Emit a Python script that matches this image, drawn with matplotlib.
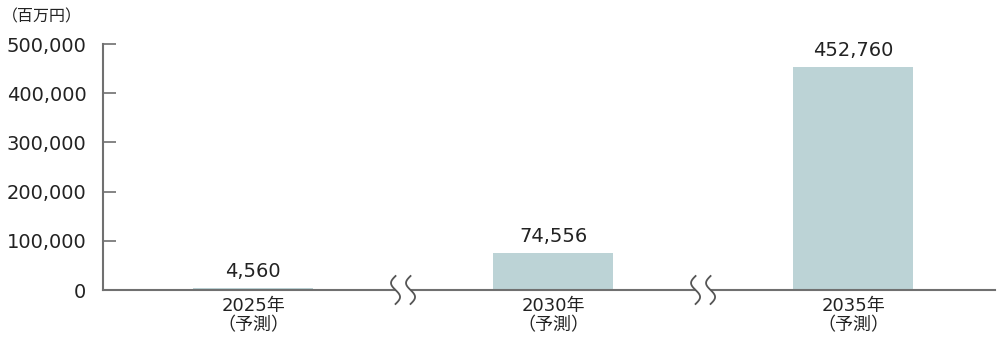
import numpy as np
import matplotlib
matplotlib.use("Agg")
import matplotlib.pyplot as plt
from matplotlib.patches import Rectangle

plt.rcParams['font.family'] = ['DejaVu Sans', 'Noto Sans CJK JP']

categories = ["2025年\n（予測）", "2030年\n（予測）", "2035年\n（予測）"]
values = [4560, 74556, 452760]
value_labels = ["4,560", "74,556", "452,760"]
yticks = [0, 100000, 200000, 300000, 400000, 500000]
ytick_labels = ["0", "100,000", "200,000", "300,000", "400,000", "500,000"]
unit_label = "（百万円）"

W, H = 998, 342
fig = plt.figure(figsize=(W / 100, H / 100), dpi=100)
ax_l, ax_r, ax_b, ax_t = 103, 995, 290, 44
ax = fig.add_axes([ax_l / W, (H - ax_b) / H, (ax_r - ax_l) / W, (ax_b - ax_t) / H])

bar_color = "#bcd3d6"
axis_color = "#707070"
text_color = "#222222"

x = np.arange(len(values))
ax.bar(x, values, width=0.4, color=bar_color, zorder=2)
ax.set_xlim(-0.5, 2.473)
ax.set_ylim(0, 500000)

for xi, v, lab in zip(x, values, value_labels):
    ax.annotate(lab, (xi, v), xytext=(0, 5), textcoords="offset points",
                ha="center", va="bottom", fontsize=14, color=text_color)

ax.set_yticks(yticks)
ax.set_yticklabels(ytick_labels, fontsize=14, color=text_color)
ax.tick_params(axis="y", direction="in", length=9, width=1.2, color=axis_color, pad=12)
ax.set_xticks(x)
ax.set_xticklabels(categories, fontsize=13, color=text_color, linespacing=1.1)
ax.tick_params(axis="x", length=0, pad=5)

for s in ["top", "right"]:
    ax.spines[s].set_visible(False)
for s in ["left", "bottom"]:
    ax.spines[s].set_color(axis_color)
    ax.spines[s].set_linewidth(1.5)

# axis break marks between categories
trans = ax.get_xaxis_transform()
px_x = 1 / 300.0
px_y = 1 / (ax_b - ax_t)
t = np.linspace(0, 1, 60)
for xm in [(x[0] + x[1]) / 2, (x[1] + x[2]) / 2]:
    offs = [-7.5, 7.5]
    ax.add_patch(Rectangle((xm + offs[0] * px_x, -14 * px_y), 15 * px_x, 28 * px_y,
                           transform=trans, facecolor="white", edgecolor="none",
                           clip_on=False, zorder=5))
    for o in offs:
        yy = (14 - 28 * t) * px_y
        xx = xm + (o - 4.5 * np.sin(2 * np.pi * t)) * px_x
        ax.plot(xx, yy, transform=trans, color="#555555", lw=1.3,
                clip_on=False, zorder=6)

fig.text(2 / W, 1 - 17 / H, unit_label, fontsize=11.5, color=text_color,
         ha="left", va="center")

fig.savefig("out.png", dpi=100)
